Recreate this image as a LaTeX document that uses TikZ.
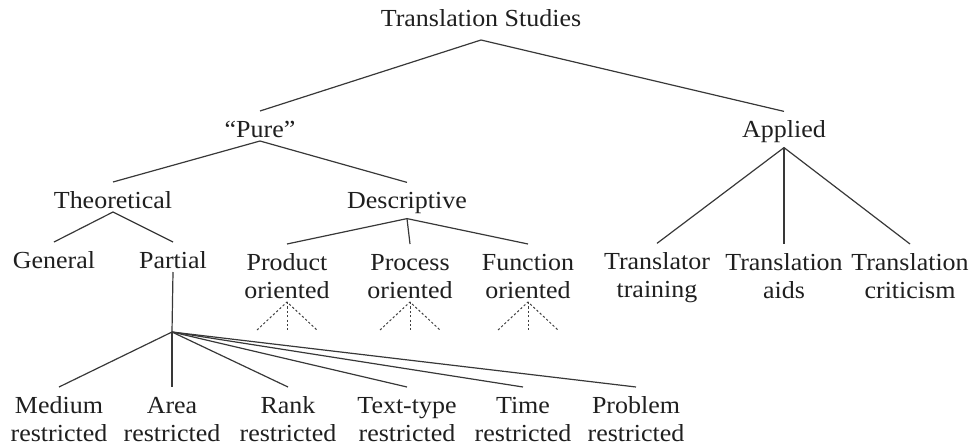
\documentclass[tikz,border=0pt]{standalone}
\usepackage{fontspec}
\setmainfont{Liberation Serif}[FakeStretch=1.06]
\newcommand\lstrut{\rule[-4pt]{0pt}{30pt}}
\tikzset{
  lbl/.style={font={\fontsize{24.5}{28}\selectfont\lineskiplimit=-100pt}, inner sep=0pt, outer sep=0pt, align=center, text=black!88},
  conn/.style={line width=1.2pt, draw=black!78},
  dotconn/.style={line width=1pt, draw=black!75, dash pattern=on 2.2pt off 2.2pt}
}
\begin{document}
\begin{tikzpicture}[x=1pt,y=-1pt]
\useasboundingbox (0,0) rectangle (976,447);
% nodes
\node[lbl] (ts) at (481,16) {\lstrut Translation Studies};
\node[lbl] (pure) at (260,126) {\lstrut ``Pure''};
\node[lbl] (applied) at (784,127) {\lstrut Applied};
\node[lbl] (theo) at (113,197) {\lstrut Theoretical};
\node[lbl] (desc) at (407,198) {\lstrut Descriptive};
\node[lbl] (general) at (54,257) {\lstrut General};
\node[lbl] (partial) at (173,257) {\lstrut Partial};
\node[lbl] (product) at (287,273) {\lstrut Product\\\lstrut oriented};
\node[lbl] (process) at (410,273) {\lstrut Process\\\lstrut oriented};
\node[lbl] (function) at (528,273) {\lstrut Function\\\lstrut oriented};
\node[lbl] (trtrain) at (657,273) {\lstrut Translator\\\lstrut training};
\node[lbl] (traids) at (784,273) {\lstrut Translation\\\lstrut aids};
\node[lbl] (trcrit) at (910,273) {\lstrut Translation\\\lstrut criticism};
\node[lbl] (medium) at (59,416) {\lstrut Medium\\\lstrut restricted};
\node[lbl] (area) at (172,416) {\lstrut Area\\\lstrut restricted};
\node[lbl] (rank) at (288,416) {\lstrut Rank\\\lstrut restricted};
\node[lbl] (texttype) at (407,416) {\lstrut Text-type\\\lstrut restricted};
\node[lbl] (time) at (523,416) {\lstrut Time\\\lstrut restricted};
\node[lbl] (problem) at (636,416) {\lstrut Problem\\\lstrut restricted};
% coordinates
\coordinate (fan) at (172,332);
\coordinate (pa) at (257,330);
\coordinate (pb) at (287,330);
\coordinate (pc) at (317,330);
\coordinate (ra) at (380,330);
\coordinate (rb) at (410,330);
\coordinate (rc) at (440,330);
\coordinate (fa) at (498,330);
\coordinate (fb) at (528,330);
\coordinate (fc) at (558,330);
% connectors
\draw[conn] (pure.north) -- ([yshift=-9pt]ts.south) -- (applied.north);
\draw[conn] (theo.north) -- (pure.south) -- (desc.north);
\draw[conn] (trtrain.north) -- ([yshift=-5pt]applied.south) -- (trcrit.north);
\draw[conn] ([yshift=-5pt]applied.south) -- (traids.north);
\draw[conn] (general.north) -- (theo.south) -- (partial.north);
\draw[conn] (product.north) -- ([yshift=-5pt]desc.south) -- (function.north);
\draw[conn] ([yshift=-5pt]desc.south) -- (process.north);
\draw[conn] (partial.south) -- (fan);
\foreach \t in {medium,area,rank,texttype,time,problem}
  \draw[conn] (fan) -- (\t.north);
\draw[dotconn] (pa) -- (product.south) -- (pc);
\draw[dotconn] (product.south) -- (pb);
\draw[dotconn] (ra) -- (process.south) -- (rc);
\draw[dotconn] (process.south) -- (rb);
\draw[dotconn] (fa) -- (function.south) -- (fc);
\draw[dotconn] (function.south) -- (fb);
\end{tikzpicture}
\end{document}
